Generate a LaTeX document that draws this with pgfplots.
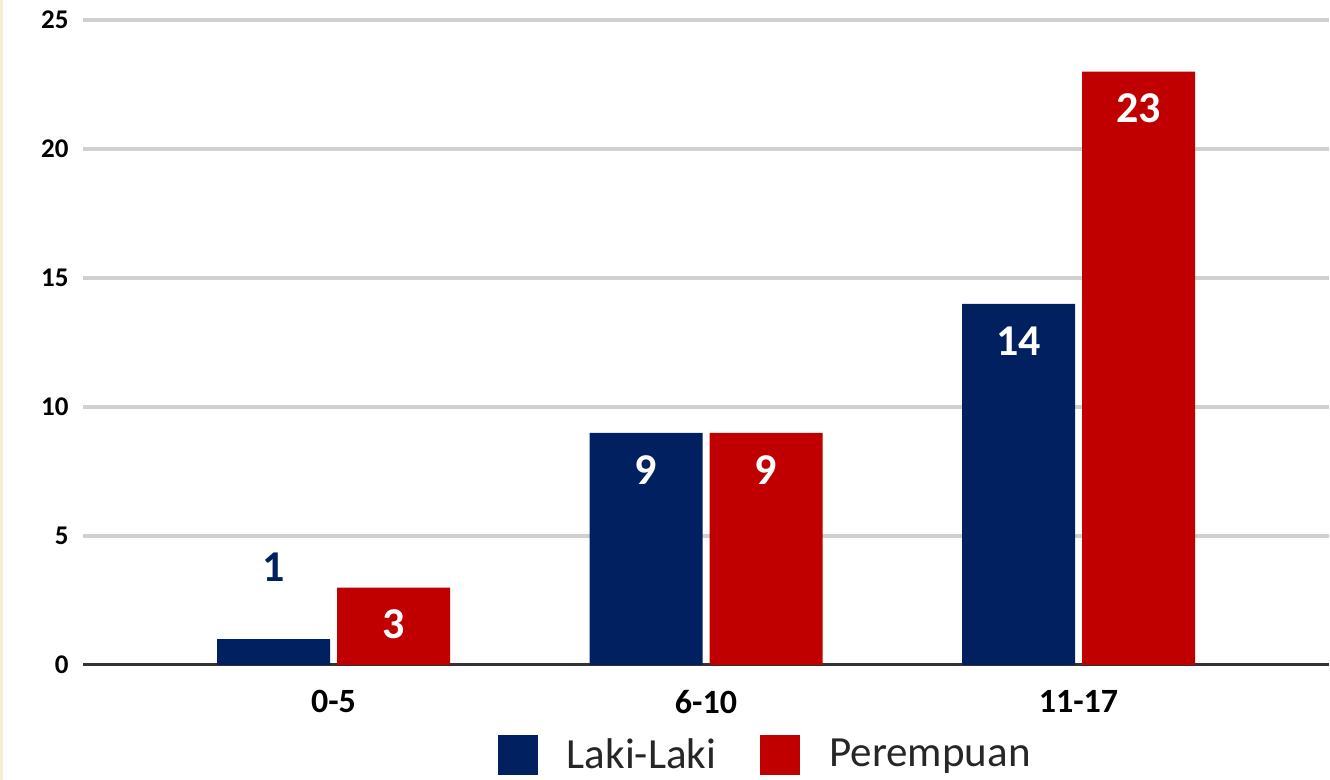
\documentclass[border=0pt]{standalone}
\usepackage{fontspec}
\setmainfont{Carlito}
\usepackage{pgfplots}
\usepackage{pgfplotstable}
\pgfplotsset{compat=1.18}
\definecolor{lblue}{HTML}{002060}
\definecolor{lred}{HTML}{C00000}
\definecolor{gridc}{HTML}{D0D0D0}
\definecolor{basec}{HTML}{333333}
\definecolor{beige}{HTML}{F2EED8}
\definecolor{legtext}{HTML}{262626}
\pgfplotstableread{
x y lab
0 1 {}
1 9 9
2 14 14
}\laki
\pgfplotstableread{
x y lab
0 3 3
1 9 9
2 23 23
}\perem
\begin{document}
\begin{tikzpicture}
\path[use as bounding box] (0pt,0pt) rectangle (665pt,390pt);
\fill[beige] (0pt,0pt) rectangle (1.5pt,390pt);
\begin{axis}[
  at={(41.5pt,57.5pt)}, anchor=south west,
  scale only axis, width=623pt, height=322.5pt,
  xmin=-0.6725, xmax=2.6725, ymin=0, ymax=25,
  ybar=3.5pt, bar width=56.5pt,
  axis x line=bottom, axis y line=left,
  axis line style={draw=none},
  major tick length=0pt,
  xtick={0,1,2}, xticklabels={0-5,6-10,11-17},
  ytick={5,10,15,20,25},
  extra y ticks={0},
  extra y tick style={grid=major, major grid style={draw=basec, line width=1.5pt}},
  ymajorgrids,
  major grid style={draw=gridc, line width=1.6pt},
  /pgf/number format/assume math mode=true,
  yticklabel style={font=\bfseries\fontsize{13.5}{14}\selectfont, inner sep=0pt, anchor=east, xshift=-7pt},
  xticklabel style={font=\bfseries\fontsize{17}{18}\selectfont, inner sep=0pt, anchor=north, yshift=-12.5pt},
  nodes near coords,
  point meta=explicit symbolic,
  nodes near coords style={anchor=center, yshift=-18.5pt, text=white, font=\bfseries\fontsize{22}{24}\selectfont},
  every axis plot post/.append style={legend image code/.code={\fill[##1] (0pt,-10pt) rectangle (20pt,10pt);}},
  legend columns=2,
  legend style={draw=none, fill=none, inner sep=0pt, outer sep=0pt,
    at={(axis description cs:0.333,-0.108)}, anchor=north west,
    font=\fontsize{21.5}{23}\selectfont, text=legtext,
    nodes={inner sep=0pt},
    /tikz/every odd column/.append style={column sep=14.5pt},
    /tikz/every even column/.append style={column sep=22pt}},
]
\addplot[fill=lblue, draw=none] table[x=x, y=y, meta=lab] {\laki};
\addplot[fill=lred, draw=none] table[x=x, y=y, meta=lab] {\perem};
\legend{Laki-Laki, Perempuan}
\node[text=lblue, font=\bfseries\fontsize{22}{24}\selectfont] at (axis cs:0,1) [xshift=-30pt, yshift=36pt] {1};
\end{axis}
\end{tikzpicture}
\end{document}
